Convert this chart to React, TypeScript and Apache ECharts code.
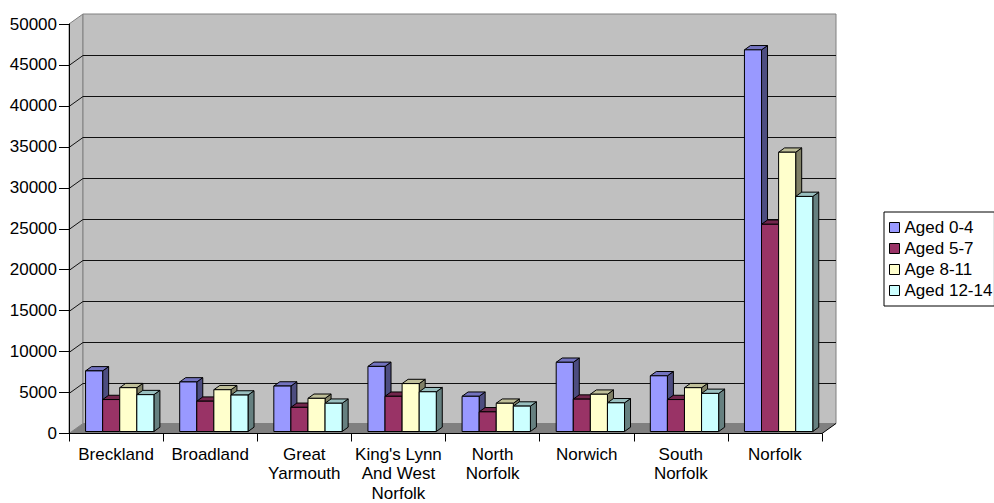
import React, { useEffect, useRef } from "react";
import * as echarts from "echarts";

// Districts of Norfolk plus the county total
const categories = [
  "Breckland",
  "Broadland",
  "Great\nYarmouth",
  "King's Lynn\nAnd West\nNorfolk",
  "North\nNorfolk",
  "Norwich",
  "South\nNorfolk",
  "Norfolk",
];

const seriesNames = ["Aged 0-4", "Aged 5-7", "Age 8-11", "Aged 12-14"];

const aged0to4 = [7400, 6050, 5550, 7950, 4300, 8450, 6800, 46600];
const aged5to7 = [3900, 3700, 2950, 4300, 2400, 3950, 3900, 25300];
const age8to11 = [5350, 5100, 4050, 5850, 3450, 4550, 5350, 34100];
const aged12to14 = [4500, 4450, 3450, 4850, 3100, 3500, 4650, 28700];

// value axis: 0..50000 in steps of 5000
const yMin = 0;
const yMax = 50000;
const yStep = 5000;
const gridValues = [5000, 10000, 15000, 20000, 25000, 30000, 35000, 40000, 45000];

const seriesValues = [aged0to4, aged5to7, age8to11, aged12to14];

// face shades for each box: front, top, side
const shades = [
  { front: "#9999FF", top: "#7373BF", side: "#4D4D80" },
  { front: "#993366", top: "#73264D", side: "#4D1A33" },
  { front: "#FFFFCC", top: "#BFBF99", side: "#808066" },
  { front: "#CCFFFF", top: "#99BFBF", side: "#668080" },
];

const FONT = "'Liberation Sans', Arial, sans-serif";
const FONT_SIZE = 17;
const WALL_DX = 14;
const WALL_DY = -10;
const BOX_DX = 6;
const BOX_DY = -4.3;

function renderWalls(params: any, api: any) {
  const cs = params.coordSys;
  const left = cs.x;
  const right = cs.x + cs.width;
  const top = cs.y;
  const bottom = cs.y + cs.height;
  const children: any[] = [
    {
      type: "polygon",
      shape: {
        points: [
          [left, bottom],
          [left, top],
          [left + WALL_DX, top + WALL_DY],
          [left + WALL_DX, bottom + WALL_DY],
        ],
      },
      style: { fill: "#C0C0C0", stroke: "#808080", lineWidth: 1 },
    },
    {
      type: "rect",
      shape: { x: left + WALL_DX, y: top + WALL_DY, width: cs.width, height: cs.height },
      style: { fill: "#C0C0C0", stroke: "#808080", lineWidth: 1 },
    },
    {
      type: "polygon",
      shape: {
        points: [
          [left, bottom],
          [right, bottom],
          [right + WALL_DX, bottom + WALL_DY],
          [left + WALL_DX, bottom + WALL_DY],
        ],
      },
      style: { fill: "#808080" },
    },
    {
      type: "line",
      shape: { x1: right, y1: bottom, x2: right + WALL_DX, y2: bottom + WALL_DY },
      style: { stroke: "#000", lineWidth: 1 },
    },
  ];
  gridValues.forEach((v) => {
    const y = Math.round(api.coord([0, v])[1]) + 0.5;
    children.push({
      type: "polyline",
      shape: {
        points: [
          [left, y],
          [left + WALL_DX, y + WALL_DY],
          [right + WALL_DX, y + WALL_DY],
        ],
      },
      style: { stroke: "#111", lineWidth: 1, fill: null },
    });
  });
  return { type: "group", children };
}

function makeBoxRenderer(idx: number) {
  const shade = shades[idx];
  return (params: any, api: any) => {
    const cat = api.value(0);
    const val = api.value(1);
    const base = api.coord([cat, 0]);
    const tip = api.coord([cat, val]);
    const catW = api.size([1, 0])[0];
    const w = catW * 0.1815;
    const cx = base[0] + catW * 0.039 + (idx - 1.5) * w;
    const x0 = cx - w / 2;
    const x1 = cx + w / 2;
    const yb = base[1] - 2;
    const yt = tip[1] - 2;
    const line = { stroke: "#000", lineWidth: 1 };
    return {
      type: "group",
      children: [
        {
          type: "polygon",
          shape: {
            points: [
              [x1, yt],
              [x1 + BOX_DX, yt + BOX_DY],
              [x1 + BOX_DX, yb + BOX_DY],
              [x1, yb],
            ],
          },
          style: { fill: shade.side, ...line },
        },
        {
          type: "polygon",
          shape: {
            points: [
              [x0, yt],
              [x1, yt],
              [x1 + BOX_DX, yt + BOX_DY],
              [x0 + BOX_DX, yt + BOX_DY],
            ],
          },
          style: { fill: shade.top, ...line },
        },
        {
          type: "rect",
          shape: { x: x0, y: yt, width: w, height: yb - yt },
          style: { fill: shade.front, ...line },
        },
      ],
    };
  };
}

export default function App() {
  const ref = useRef<HTMLDivElement>(null);

  useEffect(() => {
    document.body.style.margin = "0";
    if (!ref.current) return;
    const chart = echarts.init(ref.current, null, { renderer: "svg" });

    const series: any[] = [
      {
        type: "custom",
        name: "walls",
        renderItem: renderWalls,
        data: [[0, 0]],
        encode: { x: 0, y: 1 },
        clip: false,
        silent: true,
        z: 1,
      },
    ];
    seriesValues.forEach((vals, i) => {
      series.push({
        type: "custom",
        name: seriesNames[i],
        renderItem: makeBoxRenderer(i),
        data: vals.map((v, c) => [c, v]),
        encode: { x: 0, y: 1 },
        clip: false,
        itemStyle: { color: shades[i].front },
        z: 2,
      });
    });

    chart.setOption({
      animation: false,
      grid: { left: 69, top: 24, width: 753, height: 413, containLabel: false },
      legend: {
        data: seriesNames,
        orient: "vertical",
        left: 884,
        top: 212,
        padding: [6, 2, 6, 5],
        itemGap: 2,
        itemWidth: 10,
        itemHeight: 10,
        icon: "rect",
        borderColor: "#000",
        borderWidth: 1,
        itemStyle: { borderColor: "#000", borderWidth: 1 },
        textStyle: { fontFamily: FONT, fontSize: FONT_SIZE, color: "#000", lineHeight: 19 },
      },
      xAxis: {
        type: "category",
        data: categories,
        z: 5,
        axisLine: { show: true, lineStyle: { color: "#000", width: 1 } },
        axisTick: { show: true, length: 8, interval: 0, lineStyle: { color: "#000" } },
        axisLabel: {
          interval: 0,
          margin: 11,
          fontFamily: FONT,
          fontSize: FONT_SIZE,
          lineHeight: 19.5,
          color: "#000",
        },
        splitLine: { show: false },
      },
      yAxis: {
        type: "value",
        min: yMin,
        max: yMax,
        interval: yStep,
        z: 5,
        axisLine: { show: true, lineStyle: { color: "#000", width: 1 } },
        axisTick: { show: true, length: 10, lineStyle: { color: "#000" } },
        axisLabel: {
          margin: 12,
          fontFamily: FONT,
          fontSize: FONT_SIZE,
          color: "#000",
          formatter: (v: number) => String(v),
        },
        splitLine: { show: false },
      },
      series,
    });

    return () => chart.dispose();
  }, []);

  return <div ref={ref} style={{ width: 994, height: 503 }} />;
}
